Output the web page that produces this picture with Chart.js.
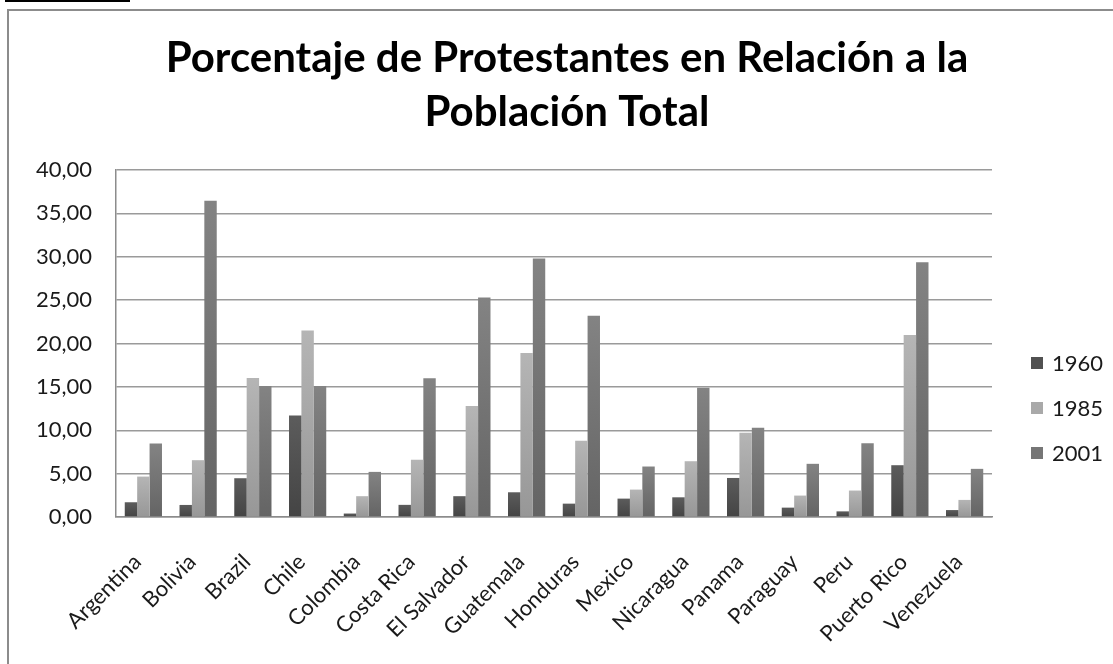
<!DOCTYPE html>
<html>
<head>
<meta charset="utf-8">
<script src="https://cdn.jsdelivr.net/npm/chart.js"></script>
<style>
  html, body { margin: 0; padding: 0; background: #fff; }
  body { width: 1113px; height: 664px; position: relative; overflow: hidden; }
  #topline { position: absolute; left: 5px; top: 0; width: 125px; height: 2px; background: #000; }
  #frame { position: absolute; left: 7px; top: 9px; width: 1120px; height: 670px; border: 2px solid #8c8c8c; }
  #wrap { position: absolute; left: 0; top: 0; width: 1113px; height: 664px; }
</style>
</head>
<body>
<div id="topline"></div>
<div id="frame"></div>
<div id="wrap"><canvas id="bar-chart"></canvas></div>
<script>
var countries = ["Argentina", "Bolivia", "Brazil", "Chile", "Colombia", "Costa Rica", "El Salvador",
    "Guatemala", "Honduras", "Mexico", "Nicaragua", "Panama", "Paraguay", "Peru", "Puerto Rico", "Venezuela"];
var years = ["1960", "1985", "2001"];
var dat_1960 = [1.70, 1.39, 4.47, 11.70, 0.40, 1.40, 2.40, 2.85, 1.54, 2.12, 2.27, 4.50, 1.08, 0.65, 5.97, 0.80];
var dat_1985 = [4.66, 6.55, 16.03, 21.50, 2.40, 6.60, 12.80, 18.90, 8.80, 3.16, 6.43, 9.70, 2.47, 3.05, 20.97, 1.97];
var dat_2001 = [8.47, 36.45, 15.10, 15.10, 5.20, 16.00, 25.30, 29.80, 23.20, 5.82, 14.90, 10.30, 6.13, 8.50, 29.36, 5.55];
var yTicks = [0, 5, 10, 15, 20, 25, 30, 35, 40];
var titleLines = ["Porcentaje de Protestantes en Relación a la", "Población Total"];

var barColors = ["#515151", "#a9a9a9", "#767676"];
var barTops = ["#5c5c5c", "#b5b5b5", "#838383"];
var barBottoms = ["#444444", "#979797", "#646464"];
var fontName = "Lato, 'DejaVu Sans', sans-serif";

function fmt(v) {
    return Number(v).toFixed(2).replace(".", ",");
}

// each bar gets its own top-to-bottom shade, like the excel bevel
function barFill(i) {
    return function(c) {
        var chart = c.chart;
        if (!chart.chartArea || c.parsed == null) return barColors[i];
        var yScale = chart.scales.y;
        var top = yScale.getPixelForValue(c.parsed.y);
        var base = yScale.getPixelForValue(0);
        if (!(base - top > 1)) return barColors[i];
        var g = chart.ctx.createLinearGradient(0, top, 0, base);
        g.addColorStop(0, barTops[i]);
        g.addColorStop(1, barBottoms[i]);
        return g;
    };
}

// title drawn by hand so it is centred on the whole frame
var bigTitle = {
    id: "bigTitle",
    afterDraw: function(chart) {
        var ctx = chart.ctx;
        ctx.save();
        ctx.font = "bold 42px " + fontName;
        ctx.fillStyle = "#000";
        ctx.textAlign = "center";
        ctx.textBaseline = "alphabetic";
        ctx.fillText(titleLines[0], 567, 72);
        ctx.fillText(titleLines[1], 567, 126);
        ctx.restore();
    }
};

// legend on the right, drawn by hand so it sits low like the original
var sideLegend = {
    id: "sideLegend",
    afterDraw: function(chart) {
        var ctx = chart.ctx;
        var area = chart.chartArea;
        var offs = [154, 109, 64];
        ctx.save();
        ctx.font = "22px " + fontName;
        ctx.textBaseline = "middle";
        ctx.textAlign = "left";
        chart.data.datasets.forEach(function(ds, i) {
            var cy = area.bottom - offs[i];
            ctx.fillStyle = barColors[i];
            ctx.fillRect(area.right + 39, cy - 6, 12, 12);
            ctx.fillStyle = "#1a1a1a";
            ctx.fillText(ds.label, area.right + 60, cy + 1);
        });
        ctx.restore();
    }
};

var sets = [dat_1960, dat_1985, dat_2001].map(function(d, i) {
    return {
        label: years[i],
        data: d,
        backgroundColor: barFill(i),
        borderWidth: 0,
        categoryPercentage: 0.68,
        barPercentage: 1.0
    };
});

var ctx = document.getElementById("bar-chart").getContext("2d");
var chart = new Chart(ctx, {
    type: "bar",
    data: { labels: countries, datasets: sets },
    plugins: [bigTitle, sideLegend],
    options: {
        responsive: true,
        maintainAspectRatio: false,
        animation: false,
        layout: { padding: { left: 0, right: 121, top: 170, bottom: 0 } },
        plugins: {
            legend: { display: false },
            tooltip: { enabled: false },
            title: { display: false }
        },
        scales: {
            x: {
                grid: { display: false, drawTicks: false },
                border: { color: "#8c8c8c", width: 1.5 },
                ticks: {
                    color: "#1a1a1a",
                    font: { family: fontName, size: 22 },
                    minRotation: 45,
                    maxRotation: 45,
                    padding: 32,
                    labelOffset: -6,
                    autoSkip: false
                },
                afterFit: function(scale) { scale.height = 147; }
            },
            y: {
                min: 0,
                max: 40,
                afterBuildTicks: function(scale) {
                    scale.ticks = yTicks.map(function(v) { return { value: v }; });
                },
                grid: { color: "#9a9a9a", lineWidth: 1.5, drawTicks: false },
                border: { color: "#8c8c8c", width: 1.5 },
                ticks: {
                    color: "#1a1a1a",
                    font: { family: fontName, size: 22 },
                    padding: 24,
                    callback: function(v) { return fmt(v); }
                },
                afterFit: function(scale) { scale.width = 116; }
            }
        }
    }
});
</script>
</body>
</html>
